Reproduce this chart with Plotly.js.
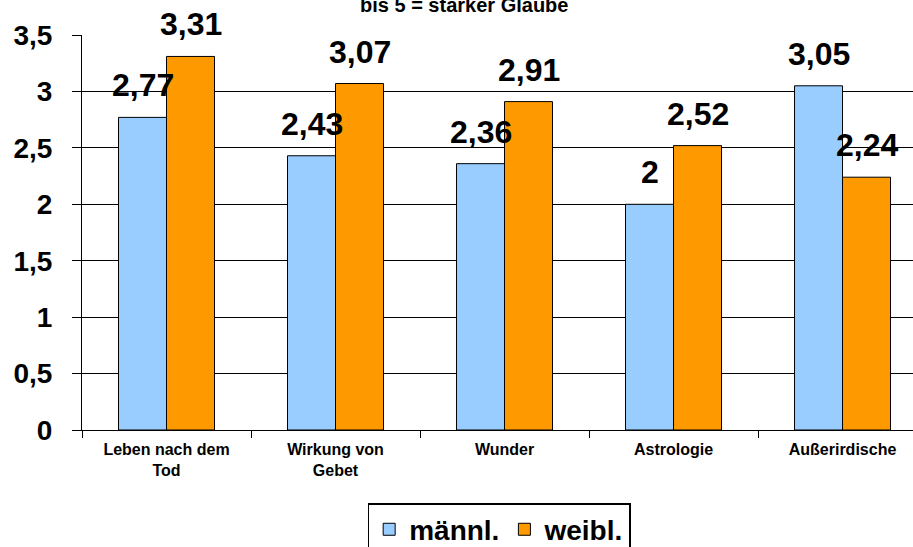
<!DOCTYPE html>
<html>
<head>
<meta charset="utf-8">
<script src="https://cdn.plot.ly/plotly-3.0.1.min.js"></script>
<style>html,body{margin:0;padding:0;background:#fff;}#chart{width:913px;height:547px;}</style>
</head>
<body>
<div id="chart"></div>
<script>
const categories = ["Leben nach dem<br>Tod", "Wirkung von<br>Gebet", "Wunder", "Astrologie", "Außerirdische"];
const maleValues = [2.77, 2.43, 2.36, 2.00, 3.05];
const femaleValues = [3.31, 3.07, 2.91, 2.52, 2.24];
const seriesNames = ["männl.", "weibl."];
const titleText = "bis 5 = starker Glaube";

const FONT = "Liberation Sans, Arial, sans-serif";
const fmt = v => String(v).replace('.', ',');

const traces = [
  {type: 'bar', name: '<b>' + seriesNames[0] + '</b>', x: categories, y: maleValues,
   marker: {color: '#99CCFF', line: {color: '#000', width: 1}}, hoverinfo: 'none'},
  {type: 'bar', name: '<b>' + seriesNames[1] + '</b>', x: categories, y: femaleValues,
   marker: {color: '#FF9900', line: {color: '#000', width: 1}}, hoverinfo: 'none'}
];

const annotations = [];
[maleValues, femaleValues].forEach((vals, si) => {
  vals.forEach((v, i) => {
    annotations.push({
      x: categories[i], y: v, xref: 'x', yref: 'y',
      text: '<b>' + fmt(v) + '</b>', showarrow: false,
      xanchor: 'center', yanchor: 'bottom',
      xshift: si === 0 ? -24 : 24, yshift: 12,
      font: {family: FONT, size: 32, color: '#000'}
    });
  });
});
annotations.push({
  x: 0.46, y: 1, xref: 'paper', yref: 'paper', xanchor: 'center', yanchor: 'bottom',
  yshift: 17, showarrow: false, text: '<b>' + titleText + '</b>',
  font: {family: FONT, size: 20, color: '#000'}
});

const layout = {
  width: 913, height: 547,
  margin: {l: 82, r: 0, t: 35, b: 117, pad: 0, autoexpand: false},
  paper_bgcolor: '#fff', plot_bgcolor: '#fff',
  separators: ',.',
  barmode: 'group', bargap: 0.432, bargroupgap: 0,
  showlegend: true,
  legend: {orientation: 'h', x: 0.502, xanchor: 'center', y: -0.185, yanchor: 'top',
           bordercolor: '#000', borderwidth: 1.5, bgcolor: '#fff',
           font: {family: FONT, size: 28, color: '#000', weight: 'bold'}, traceorder: 'normal'},
  xaxis: {range: [-0.5, 4.417], type: 'category', tickson: 'boundaries', ticks: 'outside',
          ticklen: 7, tickcolor: '#000', showline: true, linecolor: '#000', linewidth: 1,
          showgrid: false, tickfont: {family: FONT, size: 16, color: '#000', weight: 'bold'},
          ticklabelstandoff: 5, fixedrange: true},
  yaxis: {range: [0, 3.5], dtick: 0.5, tick0: 0, ticks: 'outside', ticklen: 9, tickcolor: '#000',
          showline: true, linecolor: '#000', linewidth: 1, showgrid: true, gridcolor: '#000',
          gridwidth: 1, zeroline: false, tickfont: {family: FONT, size: 28, color: '#000', weight: 'bold'},
          ticklabelstandoff: 14, fixedrange: true},
  annotations: annotations
};

Plotly.newPlot('chart', traces, layout, {displayModeBar: false, staticPlot: true});
</script>
</body>
</html>
